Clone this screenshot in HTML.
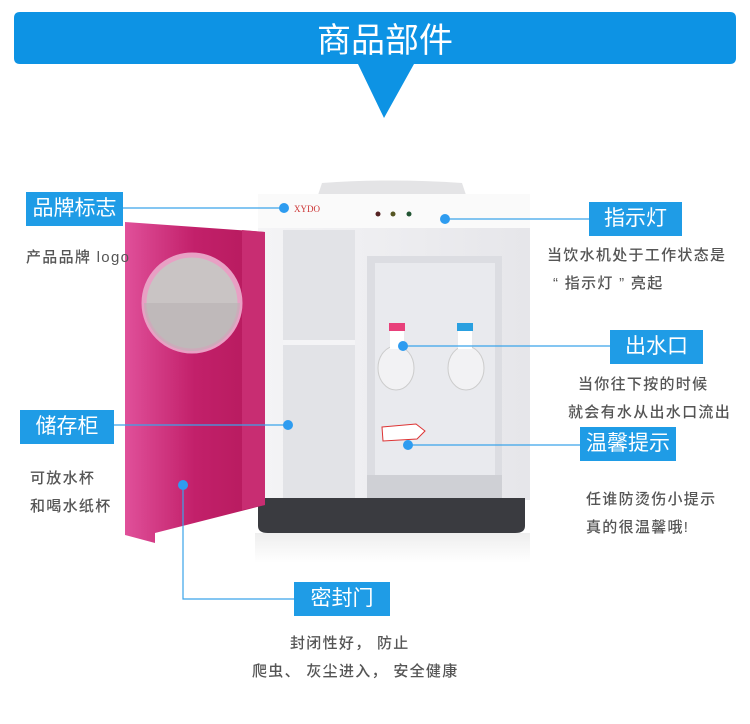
<!DOCTYPE html>
<html><head><meta charset="utf-8"><style>
body{margin:0;width:750px;height:724px;background:#fff;position:relative;overflow:hidden;font-family:"Liberation Sans","Noto Sans CJK SC",sans-serif}
.b{position:absolute;background:#1f9ce6;color:#fff;font-size:21px;text-align:center;line-height:34px;height:34px}
.t{position:absolute;color:#555;font-size:15px;letter-spacing:1.3px;line-height:28px;white-space:nowrap;font-weight:500}
svg{position:absolute;left:0;top:0}
</style></head><body>
<svg width="750" height="724">
<defs>
<linearGradient id="pk" x1="0" x2="1"><stop offset="0" stop-color="#e0509a"/><stop offset=".5" stop-color="#c2206a"/><stop offset="1" stop-color="#b51a5c"/></linearGradient>
<linearGradient id="wh" x1="0" x2="1"><stop offset="0" stop-color="#f4f4f6"/><stop offset="1" stop-color="#e6e6ea"/></linearGradient>
<linearGradient id="sh" x1="0" y1="0" x2="0" y2="1"><stop offset="0" stop-color="#eee"/><stop offset="1" stop-color="#fff"/></linearGradient>
</defs>
<path d="M14 18 Q14 12 20 12 L730 12 Q736 12 736 18 L736 58 Q736 64 730 64 L414 64 L384 118 L358 64 L20 64 Q14 64 14 58Z" fill="#0d93e4"/>
<text x="385" y="52" font-size="34" fill="#fff" text-anchor="middle" font-family="Liberation Sans,Noto Sans CJK SC,sans-serif">商品部件</text>
<rect x="255" y="533" width="275" height="30" fill="url(#sh)"/>
<path d="M318 195 L322 183 Q390 178 462 183 L466 195Z" fill="#e4e4e6"/>
<path d="M258 200 Q258 194 268 194 L520 194 Q530 194 530 204 L530 500 L258 500Z" fill="url(#wh)"/>
<rect x="258" y="194" width="272" height="34" fill="#fafafa"/>
<rect x="283" y="230" width="72" height="270" fill="#e2e3e7"/>
<rect x="283" y="340" width="72" height="5" fill="#f4f4f6"/>
<rect x="367" y="256" width="135" height="244" fill="#dcdde2"/>
<rect x="375" y="263" width="120" height="232" fill="#e9eaee"/>
<rect x="367" y="475" width="135" height="25" fill="#cfd0d5"/>
<ellipse cx="396" cy="368" rx="18" ry="22" fill="#f2f2f4" stroke="#ccc"/>
<ellipse cx="466" cy="368" rx="18" ry="22" fill="#f2f2f4" stroke="#ccc"/>
<rect x="389" y="323" width="16" height="8" fill="#e8407a"/>
<rect x="457" y="323" width="16" height="8" fill="#2aa0e0"/>
<rect x="390" y="331" width="14" height="18" fill="#fff"/>
<rect x="458" y="331" width="14" height="18" fill="#fff"/>
<path d="M382 427 L416 424 L425 431 L417 439 L383 441Z" fill="#fff" stroke="#d33" stroke-width="1"/>
<circle cx="378" cy="214" r="2.5" fill="#522"/><circle cx="393" cy="214" r="2.5" fill="#552"/><circle cx="409" cy="214" r="2.5" fill="#253"/>
<text x="294" y="212" font-size="9" fill="#c33" font-family="Liberation Serif,serif">XYDO</text>
<path d="M258 498 L525 498 L525 526 Q525 533 515 533 L268 533 Q258 533 258 526Z" fill="#3a3b40"/>
<path d="M125 222 L265 232 L265 505 L155 533 L155 543 L125 535Z" fill="url(#pk)"/>
<path d="M242 230 L265 232 L265 505 L242 510Z" fill="#c82d72"/>
<circle cx="192" cy="303" r="48" fill="#c9c4c4" stroke="#e8a0c4" stroke-width="5"/>
<path d="M144 303 L240 303 A48 48 0 0 1 144 303Z" fill="#b9b3b4" opacity=".6"/>
<g stroke="#3aa4ea" stroke-width="1.2" fill="none">
<path d="M123 208 H284"/><path d="M445 219 H589"/><path d="M403 346 H610"/><path d="M114 425 H288"/><path d="M408 445 H580"/><path d="M183 485 V599 H294"/>
</g>
<g fill="#2e9cf0">
<circle cx="284" cy="208" r="5"/><circle cx="445" cy="219" r="5"/><circle cx="403" cy="346" r="5"/><circle cx="288" cy="425" r="5"/><circle cx="408" cy="445" r="5"/><circle cx="183" cy="485" r="5"/>
</g>
</svg>
<div class="b" style="left:26px;top:192px;width:97px">品牌标志</div>
<div class="t" style="left:26px;top:244px">产品品牌 logo</div>
<div class="b" style="left:589px;top:202px;width:93px">指示灯</div>
<div class="t" style="left:547px;top:242px">当饮水机处于工作状态是</div>
<div class="t" style="left:553px;top:270px">“ 指示灯 ”  亮起</div>
<div class="b" style="left:610px;top:330px;width:93px">出水口</div>
<div class="t" style="left:578px;top:371px">当你往下按的时候</div>
<div class="t" style="left:568px;top:399px">就会有水从出水口流出</div>
<div class="b" style="left:580px;top:427px;width:96px">温馨提示</div>
<div class="t" style="left:586px;top:486px">任谁防烫伤小提示</div>
<div class="t" style="left:586px;top:514px">真的很温馨哦!</div>
<div class="b" style="left:20px;top:410px;width:94px">储存柜</div>
<div class="t" style="left:30px;top:465px">可放水杯</div>
<div class="t" style="left:30px;top:493px">和喝水纸杯</div>
<div class="b" style="left:294px;top:582px;width:96px">密封门</div>
<div class="t" style="left:290px;top:630px">封闭性好， 防止</div>
<div class="t" style="left:252px;top:658px">爬虫、 灰尘进入， 安全健康</div>
</body></html>
